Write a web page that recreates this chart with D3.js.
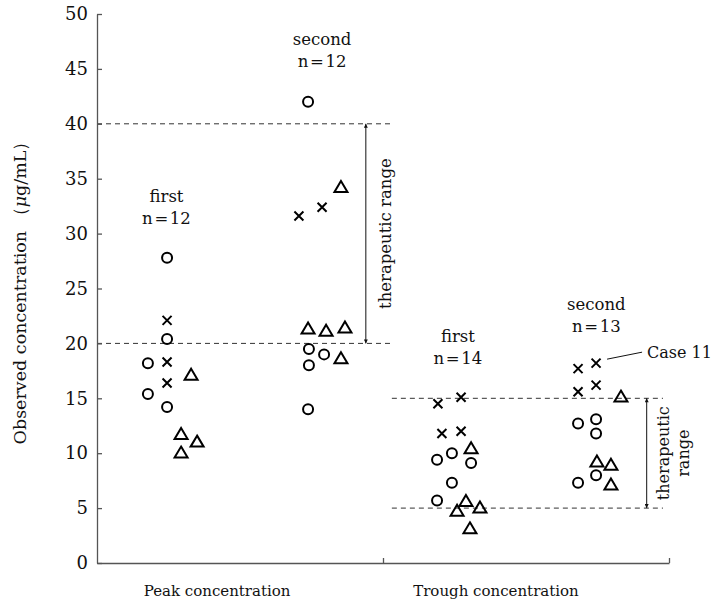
<!DOCTYPE html>
<html>
<head>
<meta charset="utf-8">
<script src="https://cdn.jsdelivr.net/npm/d3@7"></script>
<style>
  body { margin: 0; background: #fff; }
  text { font-family: "DejaVu Serif", "Liberation Serif", serif; fill: #111; }
</style>
</head>
<body>
<div id="chart"></div>
<script>
// y ticks
const yTicks = [0, 5, 10, 15, 20, 25, 30, 35, 40, 45, 50];
const categories = ["Peak concentration", "Trough concentration"];

// horizontal position: 0..1 = peak, 1..2 = trough
const peakFirst = [
  { s: "circle", x: 0.245, v: 27.8 }, { s: "circle", x: 0.245, v: 20.4 },
  { s: "circle", x: 0.178, v: 18.2 }, { s: "circle", x: 0.178, v: 15.4 },
  { s: "circle", x: 0.245, v: 14.2 },
  { s: "cross", x: 0.245, v: 22.1 }, { s: "cross", x: 0.245, v: 18.3 },
  { s: "cross", x: 0.245, v: 16.4 },
  { s: "tri", x: 0.329, v: 17.2 }, { s: "tri", x: 0.294, v: 11.8 },
  { s: "tri", x: 0.350, v: 11.1 }, { s: "tri", x: 0.294, v: 10.1 }
];
const peakSecond = [
  { s: "circle", x: 0.738, v: 42.0 }, { s: "circle", x: 0.741, v: 19.5 },
  { s: "circle", x: 0.794, v: 19.0 }, { s: "circle", x: 0.741, v: 18.0 },
  { s: "circle", x: 0.738, v: 14.0 },
  { s: "cross", x: 0.787, v: 32.4 }, { s: "cross", x: 0.706, v: 31.6 },
  { s: "tri", x: 0.853, v: 34.3 }, { s: "tri", x: 0.738, v: 21.4 },
  { s: "tri", x: 0.801, v: 21.2 }, { s: "tri", x: 0.867, v: 21.5 },
  { s: "tri", x: 0.853, v: 18.7 }
];
const troughFirst = [
  { s: "cross", x: 1.192, v: 14.5 }, { s: "cross", x: 1.273, v: 15.1 },
  { s: "cross", x: 1.206, v: 11.8 }, { s: "cross", x: 1.273, v: 12.0 },
  { s: "circle", x: 1.189, v: 9.4 }, { s: "circle", x: 1.241, v: 10.0 },
  { s: "circle", x: 1.308, v: 9.1 }, { s: "circle", x: 1.241, v: 7.3 },
  { s: "circle", x: 1.189, v: 5.7 },
  { s: "tri", x: 1.308, v: 10.5 }, { s: "tri", x: 1.290, v: 5.7 },
  { s: "tri", x: 1.259, v: 4.8 }, { s: "tri", x: 1.339, v: 5.1 },
  { s: "tri", x: 1.304, v: 3.2 }
];
const troughSecond = [
  { s: "cross", x: 1.682, v: 17.7 }, { s: "cross", x: 1.745, v: 18.2 },
  { s: "cross", x: 1.745, v: 16.2 }, { s: "cross", x: 1.682, v: 15.6 },
  { s: "circle", x: 1.682, v: 12.7 }, { s: "circle", x: 1.745, v: 13.1 },
  { s: "circle", x: 1.745, v: 11.8 }, { s: "circle", x: 1.745, v: 8.0 },
  { s: "circle", x: 1.682, v: 7.3 },
  { s: "tri", x: 1.832, v: 15.2 }, { s: "tri", x: 1.748, v: 9.3 },
  { s: "tri", x: 1.797, v: 9.0 }, { s: "tri", x: 1.797, v: 7.2 }
];

// group labels: [line1, line2, x, value at first baseline]
const groupLabels = [
  ["first", "n\u200a=\u200a12", 0.243, 32.9],
  ["second", "n\u200a=\u200a12", 0.787, 47.2],
  ["first", "n\u200a=\u200a14", 1.262, 20.1],
  ["second", "n\u200a=\u200a13", 1.746, 23.0]
];

// therapeutic ranges [low, high]
const peakRange = [20, 40];
const troughRange = [5, 15];

const W = 713, H = 603;
const mLeft = 97, mRight = 669, mTop = 14, mBottom = 563;

const svg = d3.select("#chart").append("svg")
  .attr("width", W).attr("height", H);

const x = d3.scaleLinear().domain([0, 2]).range([mLeft, mRight]);
const y = d3.scaleLinear().domain([0, 50]).range([mBottom, mTop]);

// arrow marker
const defs = svg.append("defs");
defs.append("marker")
  .attr("id", "ah")
  .attr("viewBox", "0 0 10 10")
  .attr("refX", 10).attr("refY", 5)
  .attr("markerWidth", 8).attr("markerHeight", 4)
  .attr("markerUnits", "userSpaceOnUse")
  .attr("orient", "auto-start-reverse")
  .append("path").attr("d", "M0,0 L10,5 L0,10 Z").attr("fill", "#111");

// dashed reference lines
const dash = (x0, x1, v) => svg.append("line")
  .attr("x1", x(x0)).attr("x2", x(x1))
  .attr("y1", y(v)).attr("y2", y(v))
  .attr("stroke", "#333").attr("stroke-width", 1)
  .attr("stroke-dasharray", "5,4");
peakRange.forEach(v => dash(0, 1.025, v));
troughRange.forEach(v => dash(1.031, 1.979, v));

// axes
const yAxis = svg.append("g")
  .attr("transform", `translate(${mLeft},0)`)
  .attr("font-family", null)
  .call(d3.axisLeft(y).tickValues(yTicks).tickSize(-5).tickSizeOuter(0).tickPadding(9));
yAxis.attr("font-family", "DejaVu Serif");
yAxis.selectAll("text").style("font-size", "18px").attr("fill", "#111");

const xAxis = svg.append("g")
  .attr("transform", `translate(0,${mBottom})`)
  .call(d3.axisBottom(x).tickValues([1, 2]).tickSize(-5).tickSizeOuter(0).tickFormat(""));

svg.selectAll(".domain, .tick line").attr("stroke", "#555").attr("stroke-width", 1.3);

// category labels
const catX = [0.42, 1.395];
svg.selectAll(".cat").data(categories).join("text")
  .attr("x", (d, i) => x(catX[i])).attr("y", 596)
  .attr("text-anchor", "middle").style("font-size", "15px")
  .text(d => d);

// y axis title
const yt = svg.append("text")
  .attr("transform", `translate(26,${y(25)}) rotate(-90)`)
  .attr("text-anchor", "middle").style("font-size", "17.5px");
yt.append("tspan").text("Observed concentration \uFF08");
yt.append("tspan").style("font-style", "italic").text("\u03BC");
yt.append("tspan").text("g/mL\uFF09");

// group labels
groupLabels.forEach(g => {
  svg.append("text").attr("x", x(g[2])).attr("y", y(g[3]))
    .attr("text-anchor", "middle").style("font-size", "16.5px").text(g[0]);
  svg.append("text").attr("x", x(g[2])).attr("y", y(g[3]) + 22)
    .attr("text-anchor", "middle").style("font-size", "16.5px").text(g[1]);
});

// markers
const allPts = [...peakFirst, ...peakSecond, ...troughFirst, ...troughSecond];
const g = svg.append("g").attr("fill", "none").attr("stroke", "#000").attr("stroke-width", 2);
allPts.forEach(p => {
  const cx = x(p.x), cy = y(p.v);
  if (p.s === "circle") {
    g.append("circle").attr("cx", cx).attr("cy", cy).attr("r", 5);
  } else if (p.s === "cross") {
    g.append("path").attr("d", `M${cx - 4.5},${cy - 4.5}L${cx + 4.5},${cy + 4.5}M${cx - 4.5},${cy + 4.5}L${cx + 4.5},${cy - 4.5}`);
  } else {
    g.append("path").attr("d", `M${cx},${cy - 5.5}L${cx + 6.5},${cy + 5.5}L${cx - 6.5},${cy + 5.5}Z`);
  }
});

// therapeutic range arrows
const arrow = (xv, r) => svg.append("line")
  .attr("x1", x(xv)).attr("x2", x(xv))
  .attr("y1", y(r[0])).attr("y2", y(r[1]))
  .attr("stroke", "#111").attr("stroke-width", 1)
  .attr("marker-start", "url(#ah)").attr("marker-end", "url(#ah)");
arrow(0.94, peakRange);
arrow(1.922, troughRange);

svg.append("text")
  .attr("transform", `translate(${x(0.94) + 21},${y(30)}) rotate(-90)`)
  .attr("text-anchor", "middle").attr("dominant-baseline", "middle")
  .style("font-size", "16.5px").text("therapeutic range");
const tr = svg.append("text")
  .attr("transform", `translate(${x(1.922) + 22},${y(10)}) rotate(-90)`)
  .attr("text-anchor", "middle").style("font-size", "16px");
tr.append("tspan").attr("x", 0).attr("dy", "0").text("therapeutic");
tr.append("tspan").attr("x", 0).attr("dy", "1.3em").text("range");

// Case 11 annotation
const c11 = troughSecond[1];
svg.append("line")
  .attr("x1", x(c11.x) + 11).attr("y1", y(c11.v) - 4)
  .attr("x2", x(c11.x) + 46).attr("y2", y(c11.v) - 11)
  .attr("stroke", "#111").attr("stroke-width", 1);
svg.append("text")
  .attr("x", x(c11.x) + 51).attr("y", y(c11.v) - 5)
  .style("font-size", "16px").text("Case 11");
</script>
</body>
</html>
